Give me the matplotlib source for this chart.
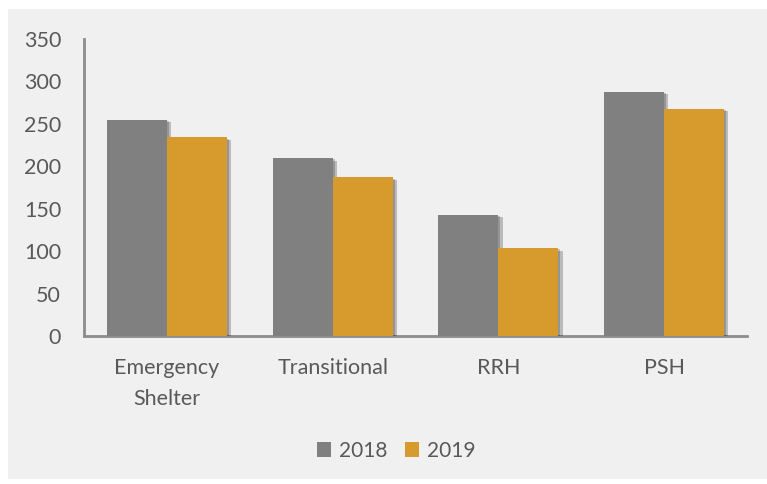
import matplotlib.pyplot as plt
import matplotlib.patheffects as pe
from matplotlib.patches import Rectangle
import numpy as np

plt.rcParams['font.family'] = ['Lato', 'DejaVu Sans']

categorias = ['Emergency\nShelter', 'Transitional', 'RRH', 'PSH']
series = ['2018', '2019']
valores_2018 = [255, 210, 143, 288]
valores_2019 = [234, 187, 104, 268]
ticks_y = [0, 50, 100, 150, 200, 250, 300, 350]

gris = '#808080'
dorado = '#d69a2d'
fondo = '#f0f0f0'
texto = '#595959'

fig = plt.figure(figsize=(7.67, 4.84), dpi=100, facecolor='white')
# panel gris de fondo
panel = Rectangle((8 / 767, 5 / 484), 1 - 8 / 767, 1 - 14 / 484,
                  transform=fig.transFigure, facecolor=fondo,
                  edgecolor='none', zorder=-10)
fig.add_artist(panel)

ax = fig.add_axes([84 / 767, (484 - 336) / 484, (747 - 84) / 767, (336 - 39) / 484])
ax.patch.set_alpha(0)

x = np.arange(len(categorias))
ancho = 0.362
# sombra suave a la derecha de cada barra
sombra = [pe.SimplePatchShadow(offset=(3, -2), shadow_rgbFace='black', alpha=0.22),
          pe.SimplePatchShadow(offset=(1.5, -1), shadow_rgbFace='black', alpha=0.2),
          pe.Normal()]

b1 = ax.bar(x - ancho / 2, valores_2018, ancho, color=gris, label=series[0], zorder=3)
b2 = ax.bar(x + ancho / 2, valores_2019, ancho, color=dorado, label=series[1], zorder=3)
for b in list(b1) + list(b2):
    b.set_path_effects(sombra)

ax.set_xlim(-0.5, 3.5)
ax.set_ylim(0, 350)
ax.set_yticks(ticks_y)
ax.set_xticks(x)
ax.set_xticklabels(categorias, fontsize=15.5, color=texto, linespacing=1.7)
ax.tick_params(axis='y', length=0, pad=16.5, labelsize=15.5, labelcolor=texto)
ax.tick_params(axis='x', length=0, pad=16)

for s in ['top', 'right']:
    ax.spines[s].set_visible(False)
for s in ['left', 'bottom']:
    ax.spines[s].set_color('#8c8c8c')
    ax.spines[s].set_linewidth(2)

leg = fig.legend(handles=[b1, b2], labels=series, loc='center', bbox_to_anchor=(396 / 767, 1 - 451 / 484),
                 ncol=2, frameon=False, fontsize=15, handlelength=0.7, handleheight=0.7,
                 handletextpad=0.35, columnspacing=0.85)
for t in leg.get_texts():
    t.set_color(texto)
for h in leg.legend_handles:
    h.set_path_effects([])

fig.savefig('out.png', dpi=100, facecolor='white')
